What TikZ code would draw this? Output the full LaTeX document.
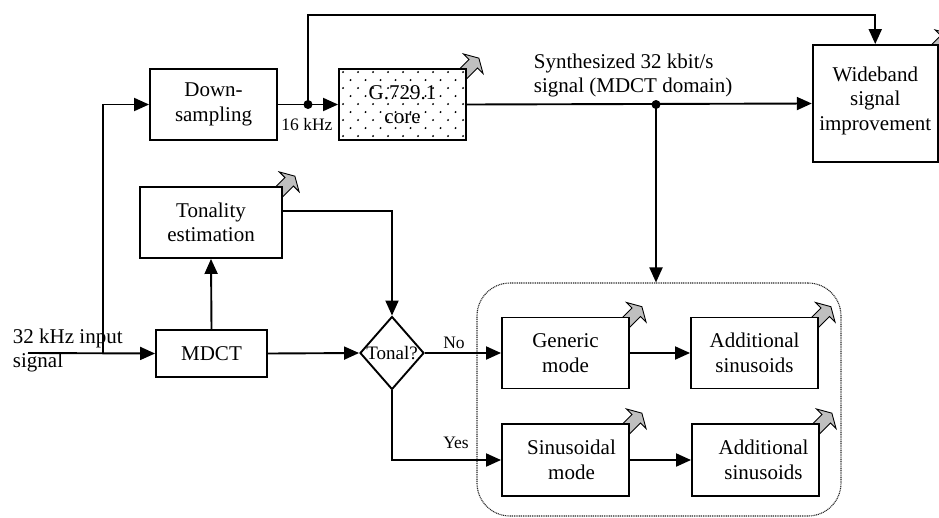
\documentclass[tikz,border=0pt]{standalone}
\usepackage{fontspec}
\setmainfont{Liberation Serif}
\usetikzlibrary{arrows.meta,shapes.geometric,backgrounds}
\begin{document}
\begin{tikzpicture}[x=1pt,y=-1pt,
  line width=1.9pt,
  arr/.style={-{Triangle[length=15pt,width=13pt]}},
  blk/.style={draw, fill=white, inner sep=0pt, align=center,
    font=\fontsize{21}{24.5}\selectfont},
  txt/.style={inner sep=0pt, align=center, font=\fontsize{21}{24.5}\selectfont},
  lbl/.style={inner sep=0pt, font=\fontsize{17.5}{21}\selectfont},
  jdot/.style={circle, fill, inner sep=0pt, minimum size=9pt},
  outarr/.pic={\draw[fill=gray!50, line width=0.9pt, line join=miter]
    (-14,-6) -- (6,-6) -- (6,-14) -- (14,0) -- (6,14) -- (6,6) -- (-14,6) -- cycle;}
]
\useasboundingbox (0,0) rectangle (939,517);

% grouped encoder modes
\node[draw=black!85, line width=1.1pt, dash pattern=on 1pt off 0.8pt,
  rounded corners=33pt, minimum width=364pt, minimum height=233pt]
  (grp) at (659,399.5) {};

% processing blocks
\node[blk, minimum width=127pt, minimum height=71pt] (down) at (213.5,104.5) {Down-\\sampling};
\node[blk, minimum width=127pt, minimum height=71pt] (core) at (402.5,104.5) {};
\begin{scope}
  \clip (core.north west) rectangle (core.south east);
  \begin{scope}[shift={(core.north west)}]
    \foreach \r in {0,...,9}{
      \pgfmathsetmacro{\off}{mod(\r,2)*7.5}
      \foreach \c in {0,...,9}{
        \fill ({\c*15+\off+5},{\r*8+4}) circle (1.1pt);
      }
    }
  \end{scope}
\end{scope}
\node[txt] at (core.center) {G.729.1\\core};
\node[blk, minimum width=125pt, minimum height=117pt] (wb) at (875.25,103.5) {};
\node[txt] at ([yshift=3pt]wb.center) {Wideband\\signal\\improvement};
\node[blk, minimum width=142pt, minimum height=71pt] (ton) at (211,222.5) {Tonality\\estimation};
\node[blk, minimum width=111pt, minimum height=47pt] (mdct) at (211.5,353.5) {MDCT};
\node[draw, diamond, inner sep=0pt, minimum width=64pt, minimum height=73pt] (dia) at (392,353) {};
\node[inner sep=0pt, font=\fontsize{19}{22}\selectfont] at (dia.center) {Tonal?};
\node[blk, minimum width=127pt, minimum height=71pt] (gen) at (565.5,353) {Generic\\mode};
\node[blk, minimum width=127pt, minimum height=71pt] (add1) at (754.5,353) {Additional\\sinusoids};
\node[blk, minimum width=127pt, minimum height=72pt] (sin) at (565.5,460) {};
\node[txt] at ([xshift=6pt]sin.center) {Sinusoidal\\mode};
\node[blk, minimum width=127pt, minimum height=72pt] (add2) at (755.5,460) {};
\node[txt] at ([xshift=8pt]add2.center) {Additional\\sinusoids};

% side-information outputs behind the blocks
\begin{scope}[on background layer]
  \foreach \b in {core,wb,ton,gen,add1,sin,add2}{
    \path (\b.north east) ++(2,0) pic[rotate=45] {outarr};
  }
\end{scope}

% input signal
\coordinate (inp) at (28,353);
\coordinate (sp) at (103,353);
\node[txt, anchor=west, align=left] at (12,350.5) {32 kHz input\\signal};
\draw[arr] (inp) -- (mdct.west);
\draw[arr] (sp) |- (down.west);

% 16 kHz path
\draw[arr] (down.east) -- (core.west);
\node[jdot] (d1) at (308,104.5) {};
\node[lbl] at (307,125) {16 kHz};
\coordinate (top) at (308,15);
\draw[arr] (d1.center) -- (top) -| (wb.north);

% synthesized signal
\draw[arr] (core.east) -- (wb.west);
\node[jdot] (d2) at (656,104.5) {};
\node[txt, anchor=west, align=left] at (533,75.5) {Synthesized 32 kbit/s\\signal (MDCT domain)};
\draw[arr] (d2.center) -- (d2 |- grp.north);

% tonality decision
\draw[arr] (mdct.north) -- (ton.south);
\draw[arr] ([yshift=11.5pt]ton.east) -| (dia.north);
\draw[arr] (mdct.east) -- (dia.west);
\draw[arr] (dia.east) -- (gen.west);
\node[lbl] at (454,343) {No};
\draw[arr] (dia.south) |- (sin.west);
\node[lbl] at (456,443) {Yes};
\draw[arr] (gen.east) -- (add1.west);
\draw[arr] (sin.east) -- (add2.west);
\end{tikzpicture}
\end{document}
